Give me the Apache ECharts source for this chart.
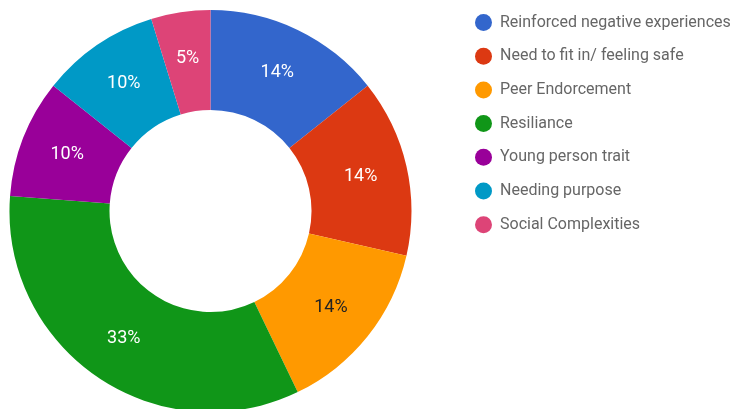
<!DOCTYPE html>
<html><head><meta charset="utf-8">
<script src="https://cdn.jsdelivr.net/npm/echarts@6/dist/echarts.min.js"></script>
<style>html,body{margin:0;padding:0;background:#fff}#c{width:733px;height:409px}</style>
</head><body><div id="c"></div>
<script>
const categories = ["Reinforced negative experiences","Need to fit in/ feeling safe","Peer Endorcement","Resiliance","Young person trait","Needing purpose","Social Complexities"];
const values = [3,3,3,7,2,2,1];
const colors = ["#3366cc","#dc3912","#ff9900","#109618","#990099","#0099c6","#dd4477"];
const labelColors = ["#fff","#fff","#222","#fff","#fff","#fff","#fff"];
const chart = echarts.init(document.getElementById('c'));
chart.setOption({
  animation:false,
  legend:{orient:'vertical',left:470,top:9,icon:'circle',itemWidth:17,itemHeight:17,itemGap:16.7,
    textStyle:{fontFamily:'Roboto',fontSize:16,lineHeight:17,color:'#666',padding:[0,0,0,3]},data:categories},
  series:[{type:'pie',center:[210.5,211],radius:[101,201],startAngle:90,clockwise:true,
    avoidLabelOverlap:false,
    label:{show:true,position:'inside',fontFamily:'Roboto',fontSize:18,
      formatter:p=>Math.round(p.percent)+'%'},
    labelLine:{show:false},
    data:categories.map((n,i)=>({name:n,value:values[i],itemStyle:{color:colors[i]},label:{color:labelColors[i]}}))
  }]
});
</script></body></html>
